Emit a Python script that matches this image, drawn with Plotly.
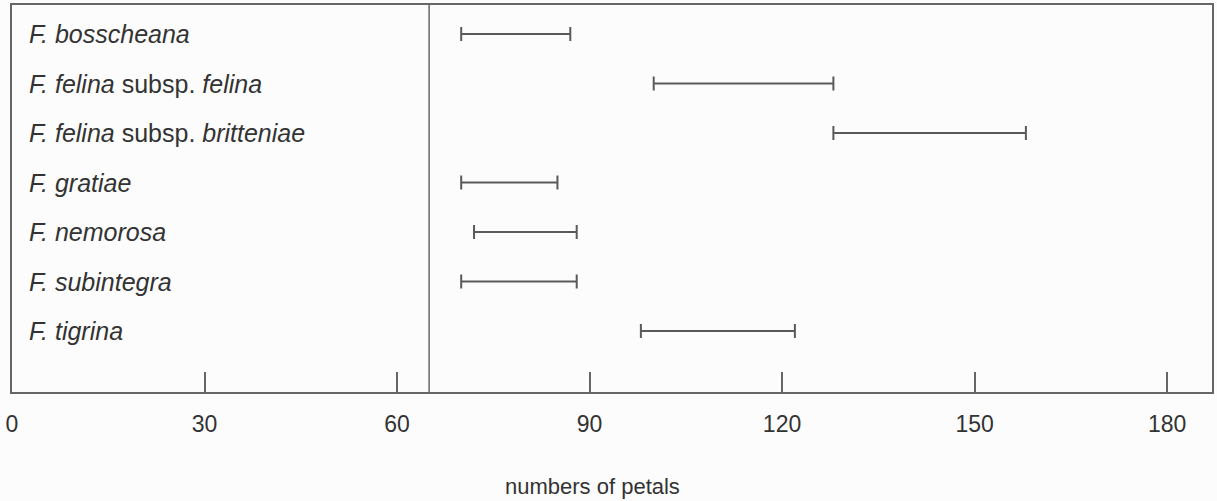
import plotly.graph_objects as go

species = [
    "<i>F. bosscheana</i>",
    "<i>F. felina</i> subsp. <i>felina</i>",
    "<i>F. felina</i> subsp. <i>britteniae</i>",
    "<i>F. gratiae</i>",
    "<i>F. nemorosa</i>",
    "<i>F. subintegra</i>",
    "<i>F. tigrina</i>",
]
petal_min = [70, 100, 128, 70, 72, 70, 98]
petal_max = [87, 128, 158, 85, 88, 88, 122]
tick_values = [0, 30, 60, 90, 120, 150, 180]
tick_labels = ["0", "30", "60", "90", "120", "150", "180"]
separator_value = 65

FONT = "Liberation Sans, Arial, Helvetica, sans-serif"
TEXT = "#333333"
LINE = "#5a5a5a"

rows = list(range(len(species)))
mids = [(a + b) / 2 for a, b in zip(petal_min, petal_max)]
halves = [(b - a) / 2 for a, b in zip(petal_min, petal_max)]

fig = go.Figure()
fig.add_trace(go.Scatter(
    x=mids, y=rows, mode="markers",
    marker=dict(size=1, color="rgba(0,0,0,0)"),
    error_x=dict(type="data", array=halves, symmetric=True,
                 color=LINE, thickness=2, width=7),
    showlegend=False, hoverinfo="skip",
))

for r, name in zip(rows, species):
    fig.add_annotation(x=0.0125, xref="paper", y=r, yref="y", text=name,
                       showarrow=False, xanchor="left", yanchor="middle",
                       font=dict(family=FONT, size=25, color=TEXT))

fig.add_shape(type="line", x0=separator_value, x1=separator_value,
              y0=0, y1=1, xref="x", yref="paper",
              line=dict(color="#666666", width=1.5))

fig.add_annotation(x=0.484, xref="paper", y=-0.245, yref="paper",
                   text="numbers of petals", showarrow=False,
                   xanchor="center", yanchor="middle",
                   font=dict(family=FONT, size=22, color=TEXT))

fig.update_layout(
    width=1217, height=501,
    margin=dict(l=12, r=3, t=5, b=109),
    paper_bgcolor="#fcfcfc", plot_bgcolor="#fcfcfc",
    xaxis=dict(range=[0, 187], tickvals=tick_values, ticktext=tick_labels,
               ticks="inside", ticklen=20, tickwidth=1.5, tickcolor="#666666",
               showline=True, mirror=True, linecolor="#666666", linewidth=1.5,
               showgrid=False, zeroline=False, ticklabelstandoff=11,
               tickfont=dict(family=FONT, size=23, color=TEXT)),
    yaxis=dict(range=[7.23, -0.586], showticklabels=False, ticks="",
               showline=True, mirror=True, linecolor="#666666", linewidth=1.5,
               showgrid=False, zeroline=False),
)

fig.write_html("out.html", config={"displayModeBar": False},
               post_script="document.body.style.margin='0';document.body.style.overflow='hidden';")
